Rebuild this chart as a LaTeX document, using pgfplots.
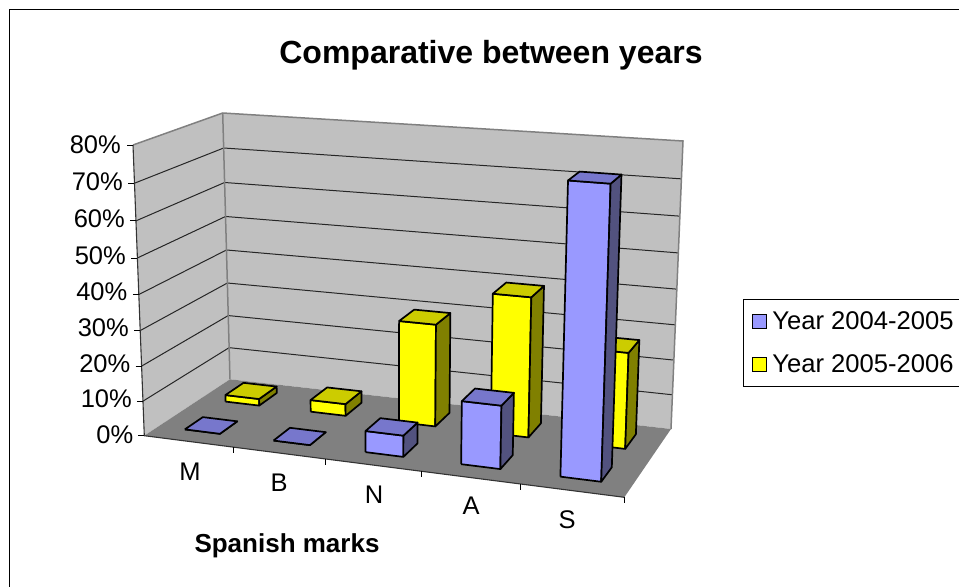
\documentclass[border=0pt]{standalone}
\usepackage{fontspec}
\setmainfont{Liberation Sans}
\usepackage{pgfplots}
\pgfplotsset{compat=1.18}

\definecolor{wall}{HTML}{C0C0C0}
\definecolor{floorgray}{HTML}{808080}
\definecolor{blueF}{HTML}{9999FF}
\definecolor{blueT}{HTML}{7777CC}
\definecolor{blueS}{HTML}{52527F}
\definecolor{yelF}{HTML}{FFFF00}
\definecolor{yelT}{HTML}{CCCC00}
\definecolor{yelS}{HTML}{808000}

% depth ranges of the two rows of columns
\def\rowAa{0.17}\def\rowAb{0.385}
\def\rowBa{0.657}\def\rowBb{0.874}

% one column: category slot, near depth, far depth, value, three face colours
\newcommand\column[7]{%
  \addplot[fill=#5,draw=black,line width=1.7bp,line join=round,forget plot]
    table[row sep=\\,x expr={px(#1+\thisrow{o},\thisrow{d},\thisrow{v})},y expr={py(#1+\thisrow{o},\thisrow{d},\thisrow{v})}]
    {o d v\\ 0.3 #2 0\\ 0.7 #2 0\\ 0.7 #2 #4\\ 0.3 #2 #4\\ 0.3 #2 0\\};
  \addplot[fill=#7,draw=black,line width=1.7bp,line join=round,forget plot]
    table[row sep=\\,x expr={px(#1+\thisrow{o},\thisrow{d},\thisrow{v})},y expr={py(#1+\thisrow{o},\thisrow{d},\thisrow{v})}]
    {o d v\\ 0.7 #2 0\\ 0.7 #3 0\\ 0.7 #3 #4\\ 0.7 #2 #4\\ 0.7 #2 0\\};
  \addplot[fill=#6,draw=black,line width=1.7bp,line join=round,forget plot]
    table[row sep=\\,x expr={px(#1+\thisrow{o},\thisrow{d},\thisrow{v})},y expr={py(#1+\thisrow{o},\thisrow{d},\thisrow{v})}]
    {o d v\\ 0.3 #2 #4\\ 0.7 #2 #4\\ 0.7 #3 #4\\ 0.3 #3 #4\\ 0.3 #2 #4\\};
}
\newcommand\yellowcol[2]{\column{#1}{\rowBa}{\rowBb}{#2}{yelF}{yelT}{yelS}}
\newcommand\bluecol[2]{\column{#1}{\rowAa}{\rowAb}{#2}{blueF}{blueT}{blueS}}

% a plane polygon of the chart box, in category / depth / value coordinates
\newcommand\boxline[2]{%
  \addplot[#1,forget plot]
    table[row sep=\\,x expr={px(\thisrow{k},\thisrow{d},\thisrow{v})},y expr={py(\thisrow{k},\thisrow{d},\thisrow{v})}]
    {k d v\\ #2};
}

\begin{document}
\begin{tikzpicture}
\begin{axis}[
  scale only axis,
  width=959bp,height=587bp,
  xmin=0,xmax=959,ymin=0,ymax=587,
  y dir=reverse,
  hide axis,
  clip=false,
  declare function={
    lerp(\p,\q,\r)=\p+(\q-\p)*\r;
    fu(\k)=(\k/5)*0.91/(1-0.09*\k/5);
    fh(\v)=(\v/80)*0.944/(1-0.056*\v/80);
    px(\k,\d,\v)=lerp(lerp(lerp(144.3,624.3,fu(\k)),lerp(230,671,fu(\k)),\d),
                      lerp(lerp(133,635.3,fu(\k)),lerp(222.7,683,fu(\k)),\d),fh(\v));
    py(\k,\d,\v)=lerp(lerp(lerp(435.7,497.3,fu(\k)),lerp(379.3,429,fu(\k)),\d),
                      lerp(lerp(145,183,fu(\k)),lerp(113,141,fu(\k)),\d),fh(\v));
  },
  legend image code/.code={\draw[#1,draw=black,line width=1.2bp] (0bp,-7bp) rectangle (14bp,7bp);},
  legend cell align=left,
  legend style={
    at={(axis cs:742.7,299.3)},anchor=north west,
    draw=black,line width=0.9bp,fill=white,
    font=\fontsize{25.6bp}{30bp}\selectfont,
    inner xsep=8.5bp,inner ysep=10bp,
    row sep=20bp,
    nodes={inner xsep=5.5bp,inner ysep=2bp},
  },
]
% outer frame of the chart area
\addplot[black,line width=1bp,forget plot] coordinates {(9,587) (9,9.3) (959,9.3)};

% side wall, back wall and floor
\addplot[fill=wall,draw=none,forget plot] table[row sep=\\,x expr={px(\thisrow{k},\thisrow{d},\thisrow{v})},y expr={py(\thisrow{k},\thisrow{d},\thisrow{v})}]
  {k d v\\ 0 0 0\\ 0 1 0\\ 0 1 80\\ 0 0 80\\ 0 0 0\\};
\addplot[fill=wall,draw=none,forget plot] table[row sep=\\,x expr={px(\thisrow{k},\thisrow{d},\thisrow{v})},y expr={py(\thisrow{k},\thisrow{d},\thisrow{v})}]
  {k d v\\ 0 1 0\\ 5 1 0\\ 5 1 80\\ 0 1 80\\ 0 1 0\\};
\addplot[fill=floorgray,draw=none,forget plot] table[row sep=\\,x expr={px(\thisrow{k},\thisrow{d},\thisrow{v})},y expr={py(\thisrow{k},\thisrow{d},\thisrow{v})}]
  {k d v\\ 0 0 0\\ 5 0 0\\ 5 1 0\\ 0 1 0\\ 0 0 0\\};

% gridlines across both walls
\pgfplotsinvokeforeach{10,20,30,40,50,60,70}{
  \boxline{black!85,line width=1bp}{0 0 #1\\ 0 1 #1\\ 5 1 #1\\}
}
% wall outline
\boxline{floorgray,line width=1.5bp}{0 0 80\\ 0 1 80\\ 5 1 80\\ 5 1 0\\}
\boxline{floorgray,line width=1.5bp}{0 1 80\\ 0 1 0\\}

% value axis with its ticks
\boxline{black!80,line width=1.1bp}{0 0 80\\ 0 0 0\\ 5 0 0\\}
\pgfplotsinvokeforeach{0,10,20,30,40,50,60,70,80}{
  \addplot[black,line width=0.9bp,forget plot]
    table[row sep=\\,x expr={px(0,0,#1)+\thisrow{o}},y expr={py(0,0,#1)}] {o\\ -6\\ 0\\};
}
% category axis ticks
\pgfplotsinvokeforeach{1,2,3,4,5}{
  \addplot[black,line width=0.9bp,forget plot]
    table[row sep=\\,x expr={px(#1,0,0)},y expr={py(#1,0,0)+\thisrow{o}}] {o\\ 0\\ 6\\};
}

% columns of the far row, Year 2005-2006
\yellowcol{0}{2}
\yellowcol{1}{3.5}
\yellowcol{2}{29.5}
\yellowcol{3}{39.7}
\yellowcol{4}{27}
% columns of the near row, Year 2004-2005
\bluecol{0}{0}
\bluecol{1}{0}
\bluecol{2}{6}
\bluecol{3}{17.5}
\bluecol{4}{77.5}

\addlegendimage{fill=blueF}
\addlegendentry{Year 2004-2005\hspace{14bp}}
\addlegendimage{fill=yelF}
\addlegendentry{Year 2005-2006\hspace{14bp}}

% chart title, axis title, category names and value labels
\begin{scope}[every node/.style={inner sep=0pt,font=\fontsize{25.5bp}{30bp}\selectfont}]
\node[font=\fontsize{32bp}{38bp}\selectfont\bfseries] at (axis cs:491,55) {Comparative between years};
\node[font=\fontsize{26bp}{30bp}\selectfont\bfseries] at (axis cs:287,546) {Spanish marks};
\node at (axis cs:190,472) {M};
\node at (axis cs:279,483) {B};
\node at (axis cs:374,495) {N};
\node at (axis cs:471,506) {A};
\node at (axis cs:567,520) {S};
\node[anchor=east] at (axis cs:121,145) {80\%};
\node[anchor=east] at (axis cs:123,182) {70\%};
\node[anchor=east] at (axis cs:125,219) {60\%};
\node[anchor=east] at (axis cs:126,256) {50\%};
\node[anchor=east] at (axis cs:127.5,292) {40\%};
\node[anchor=east] at (axis cs:129,328) {30\%};
\node[anchor=east] at (axis cs:130.5,364) {20\%};
\node[anchor=east] at (axis cs:132,399) {10\%};
\node[anchor=east] at (axis cs:133.5,435) {0\%};
\end{scope}
\end{axis}
\pgfresetboundingbox
\path[use as bounding box] (0,0) rectangle (959bp,587bp);
\end{tikzpicture}
\end{document}
